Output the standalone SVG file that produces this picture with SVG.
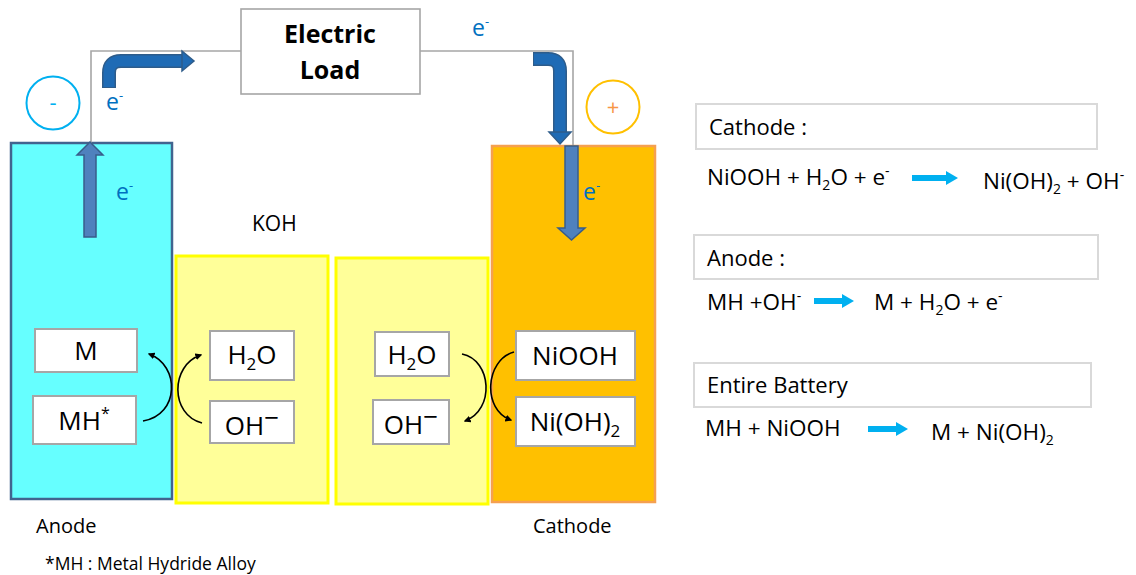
<svg xmlns="http://www.w3.org/2000/svg" width="1136" height="575" viewBox="0 0 1136 575">
<style>
text{font-family:"Open Sans","Noto Sans","Liberation Sans",sans-serif;fill:#000}
.inner{fill:#fff;stroke:#A6A6A6;stroke-width:2}
.it{font-size:26px;text-anchor:middle}
.el{font-size:23px;fill:#0070C0}
.lbl{font-size:20px}
.hd{fill:#fff;stroke:#D9D9D9;stroke-width:2}
.ht{font-size:22px}
.eq{font-size:22.5px}
.wire{fill:none;stroke:#A6A6A6;stroke-width:1.6}
.curv{fill:none;stroke:#000;stroke-width:1.6;marker-end:url(#ah)}
.sarr{fill:#4F81BD;stroke:#385D8A;stroke-width:1.5}
.barr{fill:#1F6BB5;stroke:#2E5C8A;stroke-width:1.5}
.rarr{fill:#00B0F0}
</style>
<defs>
<marker id="ah" viewBox="0 0 10 10" refX="8" refY="5" markerWidth="7" markerHeight="7" orient="auto" markerUnits="userSpaceOnUse">
<path d="M0,0 L10,5 L0,10 z" fill="#000"/>
</marker>
</defs>

<g id="anode">
<rect x="11" y="143" width="161" height="356" fill="#66FFFF" stroke="#41648F" stroke-width="2.5"/>
</g>
<g id="electrolyte-left">
<rect x="176" y="256" width="152" height="247" fill="#FFFF99" stroke="#FFFF00" stroke-width="3"/>
</g>
<g id="electrolyte-right">
<rect x="336" y="258" width="152" height="246" fill="#FFFF99" stroke="#FFFF00" stroke-width="3"/>
</g>
<g id="cathode">
<rect x="492" y="146" width="163" height="356" fill="#FFC000" stroke="#F5A050" stroke-width="2.5"/>
</g>

<g id="electric-load">
<rect x="241" y="9" width="179" height="85" fill="#fff" stroke="#A6A6A6" stroke-width="1.6"/>
<text x="330" y="43" font-size="25" font-weight="bold" text-anchor="middle">Electric</text>
<text x="330" y="79" font-size="25" font-weight="bold" text-anchor="middle">Load</text>
</g>

<g id="connectors">
<path class="wire" d="M91,143 V51 H241"/>
<path class="wire" d="M420,51 H573 V145"/>
<path d="M109,88 V73 Q109,61 121,61 H183" fill="none" stroke="#2E5C8A" stroke-width="14"/>
<path d="M109,87 V73 Q109,61 121,61 H184" fill="none" stroke="#1F6BB5" stroke-width="11"/>
<polygon class="barr" points="182,51 194,61 182,71"/>
<path d="M533,59 H548 Q560,59 560,71 V133" fill="none" stroke="#2E5C8A" stroke-width="14"/>
<path d="M534,59 H548 Q560,59 560,71 V134" fill="none" stroke="#1F6BB5" stroke-width="11"/>
<polygon class="barr" points="549,132 571,132 560,144"/>
<path class="sarr" d="M84,237 V155 H77 L90,142 L103,155 H96 V237 Z"/>
<path class="sarr" d="M565,146 V228 H558 L571.5,240 L585,228 H578 V146 Z"/>
<path class="curv" d="M143,421 C180,415 180,365 149,354"/>
<path class="curv" d="M202,423 C170,415 170,365 201,355"/>
<path class="curv" d="M462,354 C492,360 495,410 465,421"/>
<path class="curv" d="M514,352 C485,360 482,410 511,420"/>
</g>

<g id="terminal-minus">
<circle cx="53" cy="103" r="26.5" fill="#fff" stroke="#00B0F0" stroke-width="2"/>
<text x="53" y="110" font-size="22" text-anchor="middle" style="fill:#00B0F0">-</text>
</g>
<g id="terminal-plus">
<circle cx="613" cy="107" r="26.5" fill="#fff" stroke="#FFC000" stroke-width="2"/>
<text x="613" y="115" font-size="22" text-anchor="middle" style="fill:#F79646">+</text>
</g>

<g id="electron-labels">
<text class="el" x="106" y="110">e<tspan font-size="13" dy="-10">-</tspan></text>
<text class="el" x="116" y="200">e<tspan font-size="13" dy="-10">-</tspan></text>
<text class="el" x="472" y="36">e<tspan font-size="13" dy="-10">-</tspan></text>
<text class="el" x="583" y="200">e<tspan font-size="13" dy="-10">-</tspan></text>
</g>

<g id="koh"><text x="252" y="231" font-size="21">KOH</text></g>

<g id="node-M"><rect class="inner" x="35" y="329" width="102" height="43"/><text class="it" x="86" y="360">M</text></g>
<g id="node-MH"><rect class="inner" x="33" y="396" width="103" height="48"/><text class="it" x="84" y="430">MH<tspan font-size="16" dy="-11">*</tspan></text></g>
<g id="node-H2O-left"><rect class="inner" x="210" y="331" width="84" height="49"/><text class="it" x="252" y="364">H<tspan font-size="17" dy="6">2</tspan><tspan dy="-6">O</tspan></text></g>
<g id="node-OH-left"><rect class="inner" x="210" y="401" width="84" height="42"/><text class="it" x="252" y="435">OH<tspan dy="-8">−</tspan></text></g>
<g id="node-H2O-right"><rect class="inner" x="375" y="332" width="74" height="44"/><text class="it" x="412" y="364">H<tspan font-size="17" dy="6">2</tspan><tspan dy="-6">O</tspan></text></g>
<g id="node-OH-right"><rect class="inner" x="373" y="400" width="76" height="44"/><text class="it" x="411" y="434">OH<tspan dy="-8">−</tspan></text></g>
<g id="node-NiOOH"><rect class="inner" x="516" y="331" width="119" height="49"/><text class="it" x="575" y="365">NiOOH</text></g>
<g id="node-NiOH2"><rect class="inner" x="516" y="397" width="119" height="49"/><text class="it" x="575" y="431">Ni(OH)<tspan font-size="17" dy="6">2</tspan></text></g>

<g id="labels">
<text class="lbl" x="36" y="533">Anode</text>
<text class="lbl" x="533" y="533">Cathode</text>
<text x="45" y="570" font-size="17.5">*MH : Metal Hydride Alloy</text>
</g>

<g id="eq-cathode">
<rect class="hd" x="696" y="104" width="401" height="45"/>
<text class="ht" x="709" y="135">Cathode :</text>
<text class="eq" x="707" y="185">NiOOH + H<tspan font-size="14" dy="5">2</tspan><tspan dy="-5">O + e</tspan><tspan font-size="14" dy="-9">-</tspan></text>
<rect class="rarr" x="912" y="175" width="36" height="6"/><polygon class="rarr" points="946,171 958,178 946,185"/>
<text class="eq" x="983" y="189">Ni(OH)<tspan font-size="14" dy="5">2</tspan><tspan dy="-5"> + OH</tspan><tspan font-size="14" dy="-9">-</tspan></text>
</g>
<g id="eq-anode">
<rect class="hd" x="694" y="235" width="404" height="44"/>
<text class="ht" x="707" y="266">Anode :</text>
<text class="eq" x="707" y="310">MH +OH<tspan font-size="14" dy="-9">-</tspan></text>
<rect class="rarr" x="814" y="298" width="30" height="6"/><polygon class="rarr" points="842,294 854,301 842,308"/>
<text class="eq" x="874" y="310">M + H<tspan font-size="14" dy="5">2</tspan><tspan dy="-5">O + e</tspan><tspan font-size="14" dy="-9">-</tspan></text>
</g>
<g id="eq-battery">
<rect class="hd" x="694" y="363" width="397" height="44"/>
<text class="ht" x="707" y="393">Entire Battery</text>
<text class="eq" x="705" y="436">MH + NiOOH</text>
<rect class="rarr" x="868" y="426" width="30" height="6"/><polygon class="rarr" points="896,422 908,429 896,436"/>
<text class="eq" x="931" y="440">M + Ni(OH)<tspan font-size="14" dy="5">2</tspan></text>
</g>
</svg>
